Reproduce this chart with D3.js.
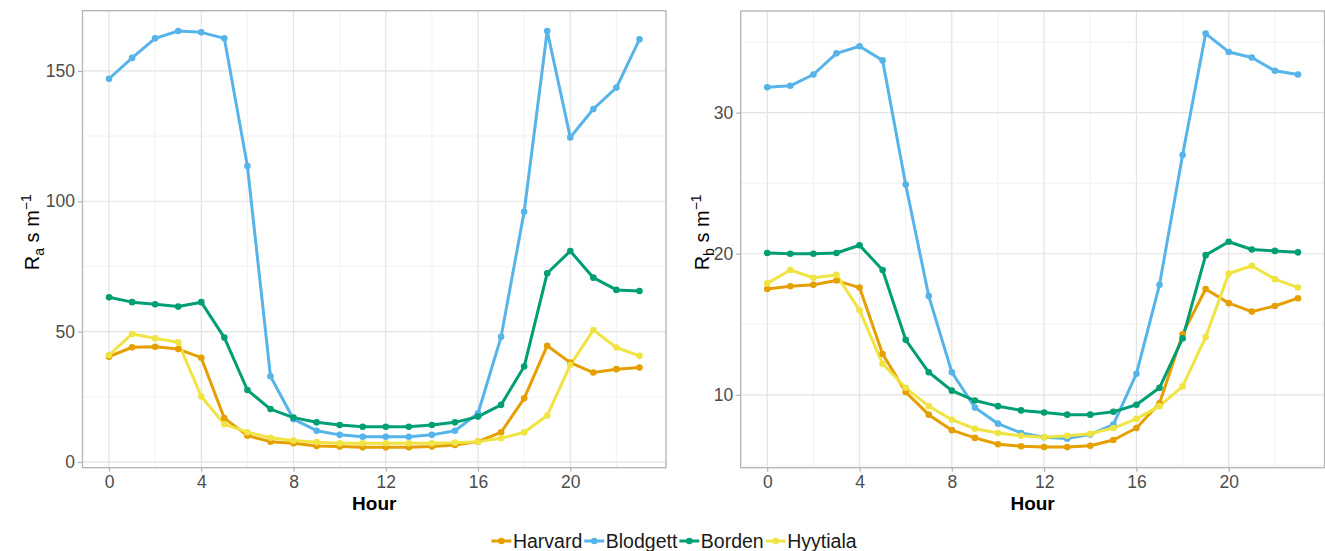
<!DOCTYPE html>
<html>
<head>
<meta charset="utf-8">
<script src="https://cdn.jsdelivr.net/npm/d3@7"></script>
<style>
  body { margin: 0; background: #fff; }
  svg { display: block; font-family: "Liberation Sans", Arial, sans-serif; }
</style>
</head>
<body>
<svg id="chart" width="1325" height="551"></svg>
<script>
// data
const hours = [0, 1, 2, 3, 4, 5, 6, 7, 8, 9, 10, 11, 12, 13, 14, 15, 16, 17, 18, 19, 20, 21, 22, 23];
const hourTicks = [0, 4, 8, 12, 16, 20];
const sites = ['Harvard', 'Blodgett', 'Borden', 'Hyytiala'];
const siteColors = ['#E69F00', '#56B4E9', '#009E73', '#F0E442'];

const raHarvard = [40.4, 44.0, 44.2, 43.3, 40.0, 16.8, 10.1, 7.8, 7.2, 6.1, 5.9, 5.6, 5.6, 5.6, 5.9, 6.5, 7.8, 11.4, 24.4, 44.6, 38.1, 34.3, 35.6, 36.2];
const raBlodgett = [147.0, 155.0, 162.5, 165.3, 164.8, 162.5, 113.5, 32.9, 16.4, 12.0, 10.4, 9.7, 9.7, 9.7, 10.4, 12.0, 18.7, 48.0, 96.0, 165.3, 124.5, 135.4, 143.6, 162.1];
const raBorden = [63.2, 61.3, 60.5, 59.6, 61.3, 47.7, 27.6, 20.3, 17.0, 15.2, 14.2, 13.5, 13.5, 13.5, 14.2, 15.2, 17.4, 21.9, 36.6, 72.4, 80.9, 70.7, 66.0, 65.6];
const raHyytiala = [41.0, 49.1, 47.4, 45.9, 25.1, 14.5, 11.4, 9.3, 8.2, 7.6, 7.2, 7.2, 7.2, 7.2, 7.2, 7.4, 7.8, 9.1, 11.4, 17.8, 37.2, 50.6, 43.9, 40.7];

const rbHarvard = [17.5, 17.7, 17.8, 18.1, 17.6, 12.9, 10.2, 8.6, 7.5, 6.95, 6.5, 6.36, 6.3, 6.3, 6.4, 6.8, 7.65, 9.4, 14.3, 17.5, 16.5, 15.9, 16.3, 16.85];
const rbBlodgett = [31.8, 31.9, 32.7, 34.2, 34.7, 33.7, 24.9, 17.0, 11.6, 9.1, 7.96, 7.3, 7.0, 6.9, 7.2, 7.9, 11.5, 17.8, 27.0, 35.6, 34.3, 33.9, 32.96, 32.7];
const rbBorden = [20.05, 20.0, 20.0, 20.05, 20.6, 18.85, 13.9, 11.6, 10.3, 9.6, 9.2, 8.9, 8.75, 8.6, 8.6, 8.8, 9.3, 10.5, 14.0, 19.9, 20.85, 20.3, 20.2, 20.1];
const rbHyytiala = [17.9, 18.85, 18.3, 18.5, 16.0, 12.2, 10.5, 9.2, 8.24, 7.6, 7.3, 7.1, 7.0, 7.1, 7.25, 7.65, 8.3, 9.2, 10.6, 14.1, 18.6, 19.15, 18.2, 17.6];

const raTicks = [0, 50, 100, 150];
const raMinor = [25, 75, 125];
const rbTicks = [10, 20, 30];
const rbMinor = [5, 15, 25, 35];

const svg = d3.select('#chart');

const panels = [
  {
    box: { x0: 82.5, x1: 666, y0: 10.7, y1: 467.7 },
    yDomain: [-2.2, 173.1],
    series: [raHarvard, raBlodgett, raBorden, raHyytiala],
    yTicks: raTicks, yMinor: raMinor,
    sub: 'a', labelX: 39
  },
  {
    box: { x0: 740.7, x1: 1324.5, y0: 11, y1: 467.7 },
    yDomain: [4.84, 37.2],
    series: [rbHarvard, rbBlodgett, rbBorden, rbHyytiala],
    yTicks: rbTicks, yMinor: rbMinor,
    sub: 'b', labelX: 709
  }
];

panels.forEach(drawPanel);
drawLegend();

function drawPanel(p) {
  const b = p.box;
  const x = d3.scaleLinear().domain([-1.15, 24.15]).range([b.x0, b.x1]);
  const y = d3.scaleLinear().domain(p.yDomain).range([b.y1, b.y0]);
  const g = svg.append('g');

  // minor grid
  const xMinor = hourTicks.map(h => h + 2);
  g.append('g').selectAll('line').data(xMinor).join('line')
    .attr('x1', d => x(d)).attr('x2', d => x(d))
    .attr('y1', b.y0).attr('y2', b.y1)
    .attr('stroke', '#f0f0f0').attr('stroke-width', 0.9);
  g.append('g').selectAll('line').data(p.yMinor).join('line')
    .attr('x1', b.x0).attr('x2', b.x1)
    .attr('y1', d => y(d)).attr('y2', d => y(d))
    .attr('stroke', '#f0f0f0').attr('stroke-width', 0.9);

  // major grid
  g.append('g').selectAll('line').data(hourTicks).join('line')
    .attr('x1', d => x(d)).attr('x2', d => x(d))
    .attr('y1', b.y0).attr('y2', b.y1)
    .attr('stroke', '#e3e3e3').attr('stroke-width', 1.2);
  g.append('g').selectAll('line').data(p.yTicks).join('line')
    .attr('x1', b.x0).attr('x2', b.x1)
    .attr('y1', d => y(d)).attr('y2', d => y(d))
    .attr('stroke', '#e3e3e3').attr('stroke-width', 1.2);

  // lines then points
  const line = d3.line().x((d, i) => x(hours[i])).y(d => y(d));
  p.series.forEach((s, k) => {
    g.append('path').datum(s)
      .attr('d', line)
      .attr('fill', 'none')
      .attr('stroke', siteColors[k])
      .attr('stroke-width', 3)
      .attr('stroke-linejoin', 'round');
  });
  p.series.forEach((s, k) => {
    g.append('g').selectAll('circle').data(s).join('circle')
      .attr('cx', (d, i) => x(hours[i]))
      .attr('cy', d => y(d))
      .attr('r', 3.3)
      .attr('fill', siteColors[k]);
  });

  // border
  g.append('rect')
    .attr('x', b.x0).attr('y', b.y0)
    .attr('width', b.x1 - b.x0).attr('height', b.y1 - b.y0)
    .attr('fill', 'none').attr('stroke', '#b3b3b3').attr('stroke-width', 1.3);

  // axes
  const xAxis = g.append('g')
    .attr('transform', `translate(0,${b.y1})`)
    .call(d3.axisBottom(x).tickValues(hourTicks).tickSize(4).tickPadding(4));
  const yAxis = g.append('g')
    .attr('transform', `translate(${b.x0},0)`)
    .call(d3.axisLeft(y).tickValues(p.yTicks).tickSize(4.5).tickPadding(3));
  [xAxis, yAxis].forEach(a => {
    a.select('.domain').remove();
    a.selectAll('line').attr('stroke', '#b3b3b3').attr('stroke-width', 1.2);
    a.selectAll('text')
      .attr('fill', '#4d4d4d')
      .style('font-size', '17.5px')
      .style('font-family', '"Liberation Sans", Arial, sans-serif');
  });

  // axis titles
  svg.append('text')
    .attr('x', (b.x0 + b.x1) / 2)
    .attr('y', 510)
    .attr('text-anchor', 'middle')
    .style('font-size', '19px')
    .style('font-weight', 'bold')
    .attr('fill', '#000')
    .text('Hour');

  const cy = (b.y0 + b.y1) / 2 - 7;
  const lab = svg.append('text')
    .attr('transform', `translate(${p.labelX},${cy}) rotate(-90)`)
    .attr('text-anchor', 'middle')
    .style('font-size', '20px')
    .attr('fill', '#000');
  lab.append('tspan').text('R');
  lab.append('tspan').attr('dy', 5).style('font-size', '14px').text(p.sub);
  lab.append('tspan').attr('dy', -5).text(' s m');
  lab.append('tspan').attr('dy', -8).style('font-size', '14px').text('\u22121');
}

function drawLegend() {
  const lg = svg.append('g');
  const yc = 541;
  const keyW = 20;
  const items = sites.map((s, i) => {
    const t = lg.append('text')
      .attr('y', yc + 6.8)
      .style('font-size', '19.5px')
      .attr('fill', '#1a1a1a')
      .text(s);
    return { t, w: t.node().getComputedTextLength(), c: siteColors[i] };
  });
  const gapKT = 1.5, gapItem = 2;
  const total = d3.sum(items, d => keyW + gapKT + d.w) + gapItem * (items.length - 1);
  let cx = 674 - total / 2;
  items.forEach(d => {
    lg.append('line')
      .attr('x1', cx).attr('x2', cx + keyW)
      .attr('y1', yc).attr('y2', yc)
      .attr('stroke', d.c).attr('stroke-width', 3);
    lg.append('circle')
      .attr('cx', cx + keyW / 2).attr('cy', yc).attr('r', 3.3)
      .attr('fill', d.c);
    d.t.attr('x', cx + keyW + gapKT);
    cx += keyW + gapKT + d.w + gapItem;
  });
}
</script>
</body>
</html>
